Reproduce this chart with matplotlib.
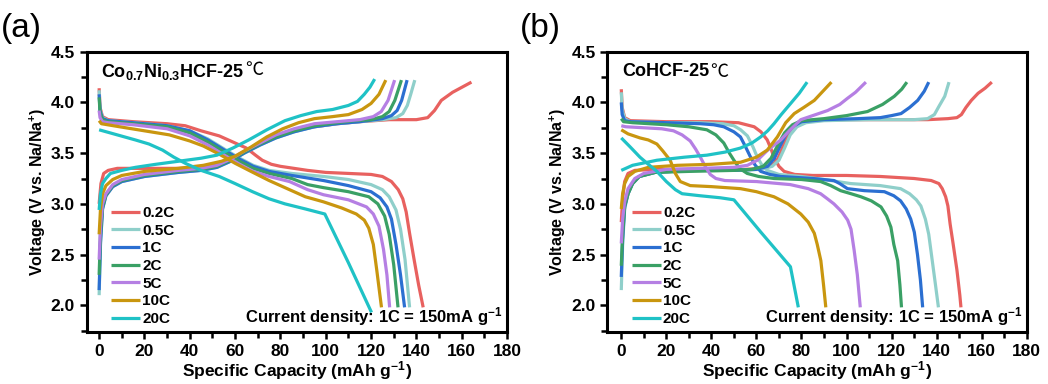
import matplotlib
matplotlib.use('Agg')
import matplotlib.pyplot as plt
from matplotlib.ticker import MultipleLocator

# rate labels and colours
RATES = ['0.2C', '0.5C', '1C', '2C', '5C', '10C', '20C']
COLORS = ['#e8615f', '#8fcfca', '#2b6fd1', '#3aa065', '#b57fe3', '#c9960f', '#1fc2c6']
X_TICKS = [0, 20, 40, 60, 80, 100, 120, 140, 160, 180]
Y_TICKS = [2.0, 2.5, 3.0, 3.5, 4.0, 4.5]

# ---- panel (a) Co0.7Ni0.3HCF : discharge curves (capacity, voltage)
a_dis_02 = [(0,4.14),(0.4,3.95),(1.5,3.86),(4,3.83),(15,3.81),(30,3.79),(38,3.77),(45,3.72),(53,3.67),(60,3.60),(65,3.55),(69,3.48),(72,3.43),(76,3.39),(80,3.37),(86,3.35),(92,3.33),(100,3.31),(110,3.30),(120,3.29),(125,3.27),(129,3.22),(132,3.14),(134,3.05),(135.5,2.92),(137,2.71),(139,2.45),(141,2.2),(143,1.98)]
a_dis_05 = [(0,4.12),(0.4,3.93),(1.5,3.85),(4,3.82),(15,3.80),(30,3.77),(40,3.72),(48,3.64),(56,3.53),(62,3.45),(68,3.38),(75,3.33),(85,3.30),(99,3.27),(110,3.24),(120,3.19),(125,3.14),(128,3.07),(131,2.94),(133,2.75),(135,2.45),(137,1.98)]
a_dis_1 = [(0,4.08),(0.4,3.92),(1.5,3.84),(4,3.82),(15,3.80),(30,3.77),(40,3.72),(48,3.63),(56,3.52),(62,3.44),(68,3.37),(75,3.32),(85,3.28),(99,3.23),(110,3.18),(120,3.12),(124,3.06),(127,2.97),(129,2.85),(131,2.6),(133,2.3),(134.8,1.98)]
a_dis_2 = [(0,4.05),(0.4,3.9),(1.5,3.83),(4,3.81),(15,3.79),(30,3.76),(40,3.70),(48,3.61),(56,3.50),(62,3.42),(68,3.35),(75,3.30),(85,3.25),(92,3.19),(99,3.16),(110,3.12),(119,3.07),(123,3.0),(126,2.88),(128,2.7),(130,2.4),(131.9,1.98)]
a_dis_5 = [(0,3.92),(0.4,3.85),(1.5,3.81),(4,3.80),(15,3.78),(30,3.74),(40,3.67),(48,3.58),(56,3.47),(62,3.39),(68,3.32),(75,3.27),(84,3.22),(92,3.14),(99,3.09),(110,3.04),(118,2.97),(121,2.9),(123.5,2.78),(125.5,2.55),(127,2.3),(128.2,1.98)]
a_dis_10 = [(0,3.82),(1,3.79),(9,3.76),(20,3.72),(31,3.68),(40,3.62),(46,3.57),(53,3.49),(60,3.40),(67,3.32),(75,3.23),(84,3.14),(91,3.07),(99,3.02),(107,2.96),(113.5,2.9),(117,2.84),(119,2.76),(121,2.6),(122.5,2.35),(124.6,1.98)]
a_dis_20 = [(0,3.73),(8,3.68),(16,3.63),(22,3.59),(28,3.53),(33,3.46),(38,3.40),(45,3.33),(53,3.27),(60,3.2),(67.7,3.12),(75,3.05),(82,3.0),(91,2.95),(99.6,2.90),(110,2.42),(120.2,1.93)]

# ---- panel (a) charge curves
a_chg_02 = [(0,3.0),(0.8,3.2),(2,3.3),(4,3.33),(8,3.35),(20,3.35),(35,3.35),(45,3.36),(52,3.39),(58,3.44),(63,3.50),(70,3.58),(78,3.66),(86,3.72),(95,3.76),(105,3.79),(115,3.81),(128,3.83),(140,3.83),(145,3.85),(148,3.92),(151,4.02),(156,4.1),(164.3,4.2)]
a_chg_05 = [(0,2.1),(0.6,2.6),(1.5,2.95),(3,3.08),(6,3.17),(10,3.22),(20,3.27),(35,3.31),(45,3.33),(52,3.36),(58,3.42),(64,3.50),(71,3.58),(78,3.65),(86,3.71),(95,3.76),(105,3.79),(115,3.81),(125,3.83),(131,3.85),(134,3.89),(136,3.97),(137.5,4.08),(139.3,4.22)]
a_chg_1 = [(0,2.15),(0.6,2.62),(1.5,2.95),(3,3.08),(6,3.17),(10,3.22),(20,3.27),(35,3.31),(45,3.33),(52,3.36),(58,3.42),(64,3.50),(71,3.58),(78,3.65),(86,3.71),(95,3.76),(105,3.79),(115,3.81),(125,3.84),(129,3.87),(131.5,3.92),(133.5,4.02),(135.9,4.22)]
a_chg_2 = [(0,2.3),(0.6,2.7),(1.5,2.97),(3,3.09),(6,3.18),(10,3.23),(20,3.28),(35,3.32),(45,3.34),(52,3.37),(58,3.43),(64,3.51),(71,3.59),(78,3.66),(86,3.72),(95,3.77),(105,3.80),(113,3.82),(120,3.83),(125,3.86),(128,3.91),(130.5,4.02),(133.4,4.22)]
a_chg_5 = [(0,2.45),(0.6,2.78),(1.5,3.0),(3,3.1),(6,3.19),(10,3.24),(20,3.29),(35,3.33),(45,3.35),(52,3.38),(58,3.44),(64,3.52),(71,3.60),(78,3.68),(86,3.74),(95,3.79),(105,3.81),(115,3.83),(121,3.86),(124.5,3.91),(127.5,4.02),(130.4,4.22)]
a_chg_10 = [(0,2.7),(0.6,2.95),(1.5,3.1),(3,3.18),(6,3.24),(10,3.28),(20,3.32),(35,3.35),(46,3.38),(54,3.42),(60,3.47),(67,3.56),(74,3.66),(81,3.74),(88,3.8),(95,3.84),(103,3.86),(110,3.88),(116,3.93),(120,3.99),(123.5,4.08),(126.5,4.22)]
a_chg_20 = [(0,2.94),(0.6,3.1),(1.5,3.2),(3,3.25),(5,3.3),(10,3.33),(16,3.36),(25,3.39),(35,3.42),(45,3.45),(52,3.48),(59,3.55),(66,3.63),(74,3.73),(82,3.82),(89,3.87),(96,3.91),(103,3.93),(110,3.97),(114,4.01),(117,4.08),(119.5,4.15),(121.6,4.23)]

# ---- panel (b) CoHCF : discharge curves
b_dis_02 = [(0,4.13),(0.4,3.95),(1.5,3.85),(4,3.82),(20,3.81),(40,3.81),(52,3.80),(59,3.76),(62,3.71),(64.8,3.63),(66.5,3.54),(67.8,3.46),(70,3.37),(72.3,3.32),(77,3.29),(85,3.28),(100,3.28),(115,3.27),(130,3.25),(137.6,3.23),(141,3.2),(142.5,3.15),(144,3.07),(145,2.98),(146,2.8),(147.3,2.61),(149,2.35),(150.3,2.1),(150.8,1.98)]
b_dis_05 = [(0,4.1),(0.4,3.93),(1.5,3.84),(4,3.81),(20,3.80),(35,3.80),(45,3.79),(50,3.77),(53,3.73),(56,3.67),(58.5,3.56),(60.4,3.46),(62.5,3.38),(64.8,3.33),(70,3.29),(80,3.27),(90,3.24),(101.9,3.20),(115,3.18),(124,3.15),(128,3.1),(131,3.04),(133,2.98),(135,2.85),(136.5,2.7),(138,2.45),(139.5,2.2),(140.8,1.98)]
b_dis_1 = [(0,4.0),(0.4,3.88),(1.5,3.82),(4,3.81),(20,3.80),(35,3.79),(41,3.78),(45.5,3.76),(50,3.71),(52.9,3.66),(55,3.57),(57.4,3.46),(59.5,3.38),(61.9,3.32),(66,3.29),(70.8,3.27),(85,3.25),(94.4,3.23),(97,3.2),(100.4,3.15),(108,3.13),(116.8,3.12),(121,3.08),(124,3.03),(126.5,2.95),(128.5,2.85),(130.1,2.72),(131.5,2.5),(132.8,2.25),(133.8,1.98)]
b_dis_2 = [(0,3.84),(1,3.81),(5,3.80),(20,3.78),(30,3.76),(38,3.73),(42,3.68),(45.5,3.60),(48,3.5),(50,3.43),(52.5,3.35),(55.9,3.30),(61,3.27),(67.8,3.25),(80,3.24),(88.5,3.22),(93,3.18),(97.4,3.13),(102,3.10),(106.4,3.07),(111,3.03),(115.3,2.97),(117.8,2.88),(119.7,2.77),(121,2.6),(122.7,2.44),(123.7,2.2),(124.4,1.98)]
b_dis_5 = [(0,3.77),(2,3.76),(10,3.75),(18,3.74),(23.2,3.72),(27,3.68),(30.6,3.62),(33,3.54),(35.1,3.46),(37.5,3.36),(39.5,3.29),(42,3.25),(46,3.23),(60,3.22),(75,3.19),(83,3.15),(88.5,3.10),(91.5,3.05),(94.4,3.0),(98,2.92),(100.5,2.84),(102,2.75),(103.4,2.54),(104.8,2.3),(106.1,1.98)]
b_dis_10 = [(0,3.73),(3,3.69),(8.3,3.65),(12,3.63),(15.8,3.59),(18.5,3.52),(21.7,3.43),(24,3.3),(26.2,3.22),(30.6,3.18),(40,3.17),(52.9,3.15),(60,3.12),(67.8,3.07),(74,3.0),(79.7,2.9),(83,2.82),(85.7,2.71),(87,2.6),(88.6,2.44),(89.8,2.2),(90.8,1.98)]
b_dis_20 = [(0,3.65),(4,3.56),(8.3,3.46),(12,3.39),(15.8,3.32),(20,3.22),(24,3.14),(27,3.10),(35,3.08),(44,3.06),(50,3.04),(62,2.72),(75.1,2.38),(78.6,1.98)]

# ---- panel (b) charge curves
b_chg_02 = [(0,2.82),(0.6,3.05),(1.5,3.22),(3,3.3),(6,3.33),(15,3.34),(40,3.34),(55,3.34),(62,3.35),(66,3.37),(69,3.42),(71,3.52),(73,3.64),(75.5,3.74),(79,3.80),(85,3.82),(100,3.83),(120,3.83),(136,3.83),(145,3.84),(149,3.85),(151,3.88),(153,3.95),(155.4,4.02),(158.4,4.09),(161.5,4.14),(164.5,4.2)]
b_chg_05 = [(0,2.15),(0.6,2.6),(1.5,2.95),(3,3.1),(5,3.2),(8,3.27),(15,3.31),(30,3.33),(50,3.33),(62,3.34),(67,3.37),(70,3.43),(72.5,3.55),(75,3.68),(78,3.76),(82,3.8),(90,3.82),(110,3.83),(130,3.83),(136,3.84),(139,3.88),(141,3.96),(143.6,4.06),(145.5,4.2)]
b_chg_1 = [(0,2.28),(0.6,2.65),(1.5,2.97),(3,3.1),(5,3.2),(8,3.27),(15,3.31),(30,3.33),(50,3.33),(60,3.34),(65,3.37),(68,3.45),(70.5,3.57),(73,3.68),(76,3.76),(80,3.81),(90,3.83),(105,3.84),(115,3.85),(120,3.87),(124.2,3.89),(128,3.95),(131.6,4.02),(134.5,4.11),(136.5,4.2)]
b_chg_2 = [(0,2.39),(0.6,2.7),(1.5,2.98),(3,3.1),(5,3.2),(8,3.27),(15,3.31),(30,3.32),(50,3.33),(58,3.34),(63,3.37),(66.5,3.45),(69.5,3.58),(72.5,3.7),(76,3.78),(80,3.82),(90,3.84),(100,3.87),(109.3,3.91),(116,3.98),(121.2,4.06),(124.5,4.13),(126.8,4.2)]
b_chg_5 = [(0,2.61),(0.6,2.85),(1.5,3.02),(3,3.15),(6,3.25),(10,3.3),(20,3.34),(35,3.35),(50,3.36),(56,3.38),(60.4,3.43),(65,3.53),(70.8,3.63),(75,3.73),(79.7,3.83),(85,3.87),(91.6,3.92),(97,3.98),(100.4,4.04),(104,4.1),(108.6,4.2)]
b_chg_10 = [(0,2.95),(0.6,3.1),(1.5,3.2),(3,3.27),(6,3.32),(12,3.36),(25,3.38),(40,3.39),(52.9,3.41),(60,3.46),(64.8,3.53),(69.3,3.66),(73,3.8),(76.8,3.89),(81,3.95),(85.7,4.02),(89.5,4.11),(93.3,4.2)]
b_chg_20 = [(0,3.33),(5,3.38),(15.8,3.43),(28,3.46),(38,3.48),(46,3.51),(52.9,3.55),(58,3.6),(61.9,3.66),(65,3.72),(67.8,3.79),(71,3.88),(75.2,3.99),(79,4.09),(82.5,4.2)]

A_DIS = [a_dis_02, a_dis_05, a_dis_1, a_dis_2, a_dis_5, a_dis_10, a_dis_20]
A_CHG = [a_chg_02, a_chg_05, a_chg_1, a_chg_2, a_chg_5, a_chg_10, a_chg_20]
B_DIS = [b_dis_02, b_dis_05, b_dis_1, b_dis_2, b_dis_5, b_dis_10, b_dis_20]
B_CHG = [b_chg_02, b_chg_05, b_chg_1, b_chg_2, b_chg_5, b_chg_10, b_chg_20]

plt.rcParams['font.family'] = ['Liberation Sans', 'Noto Sans CJK SC', 'DejaVu Sans']
plt.rcParams['font.weight'] = 'bold'
plt.rcParams['axes.labelweight'] = 'bold'
plt.rcParams['mathtext.fontset'] = 'custom'
plt.rcParams['mathtext.rm'] = 'Liberation Sans:bold'
plt.rcParams['mathtext.it'] = 'Liberation Sans:bold'
plt.rcParams['mathtext.bf'] = 'Liberation Sans:bold'

fig = plt.figure(figsize=(10.48, 3.84), dpi=100)
ax_a = fig.add_axes([0.0827, 0.1362, 0.4011, 0.7292])
ax_b = fig.add_axes([0.5795, 0.1362, 0.4002, 0.7292])


def draw(ax, dis, chg, title, xmin, deg_y):
    for lab, col, d, c in zip(RATES, COLORS, dis, chg):
        ax.plot([p[0] for p in d], [p[1] for p in d], color=col, lw=2.3,
                solid_joinstyle='round', solid_capstyle='butt', label=lab)
        ax.plot([p[0] for p in c], [p[1] for p in c], color=col, lw=2.3,
                solid_joinstyle='round', solid_capstyle='butt')
    ax.set_xlim(xmin, 180)
    ax.set_ylim(1.74, 4.5)
    ax.set_xticks(X_TICKS)
    ax.set_xticklabels([str(v) for v in X_TICKS], fontweight='bold', fontsize=12.5)
    ax.set_yticks(Y_TICKS)
    ax.set_yticklabels(['%.1f' % v for v in Y_TICKS], fontweight='bold', fontsize=12.5)
    ax.xaxis.set_minor_locator(MultipleLocator(10))
    ax.yaxis.set_minor_locator(MultipleLocator(0.25))
    ax.tick_params(which='both', direction='out', width=1.8)
    ax.tick_params(which='major', length=5)
    ax.tick_params(which='minor', length=4)
    ax.tick_params(axis='x', pad=3.5)
    for s in ax.spines.values():
        s.set_linewidth(2.2)
    ax.set_xlabel('Specific Capacity (mAh g$^{-1}$)', fontsize=12.5, labelpad=0.5)
    ax.set_ylabel('Voltage (V vs. Na/Na$^{+}$)', fontsize=11.5, labelpad=2)
    t = ax.text(0.035, 0.929, title, transform=ax.transAxes, fontsize=13,
                ha='left', va='center')
    ax.annotate('℃', xy=(1, deg_y), xycoords=t, xytext=(0.5, 0), textcoords='offset points',
                ha='left', va='center', fontsize=13, fontweight='normal',
                family=['Noto Sans CJK SC', 'DejaVu Sans'])
    ax.text(0.99, 0.054, 'Current density: 1C = 150mA g$^{-1}$', transform=ax.transAxes,
            fontsize=12, ha='right', va='center')
    ax.legend(loc='lower left', bbox_to_anchor=(0.058, 0.02), frameon=False,
              prop={'size': 11, 'weight': 'bold'}, handlelength=1.9, handletextpad=0.15,
              labelspacing=0.24, borderpad=0, borderaxespad=0)


draw(ax_a, A_DIS, A_CHG, 'Co$_{0.7}$Ni$_{0.3}$HCF-25', -5.5, 0.6)
draw(ax_b, B_DIS, B_CHG, 'CoHCF-25', -6.2, 0.5)

fig.text(0.001, 0.925, '(a)', fontsize=24, fontweight='normal', ha='left', va='center')
fig.text(0.496, 0.925, '(b)', fontsize=24, fontweight='normal', ha='left', va='center')

fig.savefig('out.png', dpi=100)
